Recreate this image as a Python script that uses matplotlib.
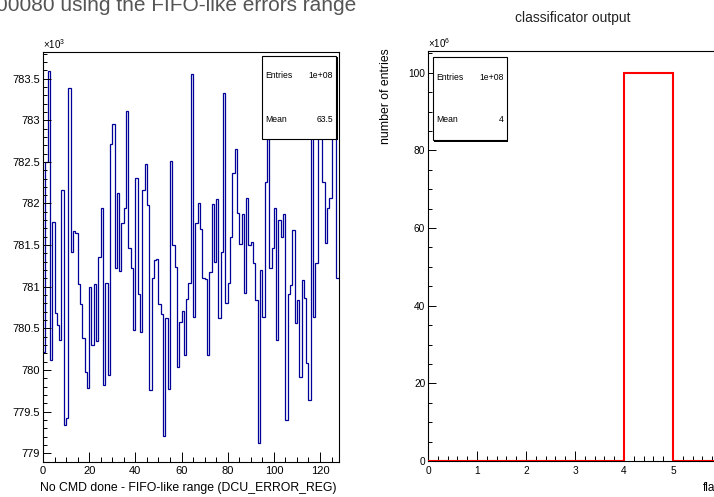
import numpy as np
import matplotlib.pyplot as plt
from matplotlib.patches import Rectangle
from matplotlib.ticker import MultipleLocator, FormatStrFormatter, FuncFormatter

plt.rcParams['font.family'] = ['Liberation Sans', 'DejaVu Sans']
plt.rcParams['mathtext.fontset'] = 'custom'
plt.rcParams['mathtext.rm'] = 'Liberation Sans'

# left histogram: 128 bins, entries in units of 10^3
fifo_edges = np.arange(0, 129)
fifo_counts = [
    780.22, 782.50, 783.59, 780.12, 781.78, 780.68, 780.54, 780.36,
    782.16, 779.34, 779.42, 783.39, 781.42, 781.67, 781.65, 781.03,
    780.79, 780.38, 779.98, 779.78, 781.00, 780.30, 781.03, 780.35,
    781.36, 781.94, 779.82, 781.05, 779.94, 782.71, 782.95, 781.22,
    782.13, 781.19, 781.76, 781.95, 783.11, 781.46, 781.22, 780.48,
    782.31, 780.91, 780.45, 782.16, 782.47, 781.98, 779.76, 781.10,
    781.32, 781.33, 780.79, 780.67, 779.21, 780.62, 779.77, 782.51,
    781.50, 781.24, 780.04, 780.58, 780.71, 780.18, 780.85, 781.05,
    783.56, 780.64, 781.77, 782.01, 781.69, 781.10, 781.09, 780.18,
    781.18, 781.99, 781.30, 782.05, 780.62, 781.42, 783.33, 780.81,
    781.05, 781.60, 782.37, 782.66, 781.89, 781.51, 781.87, 780.93,
    782.06, 781.50, 781.54, 781.28, 780.84, 779.12, 781.20, 780.64,
    782.26, 782.77, 781.22, 781.46, 781.94, 780.36, 781.80, 781.60,
    781.87, 779.40, 780.91, 781.02, 781.68, 780.56, 780.84, 779.92,
    781.08, 780.86, 780.08, 779.64, 783.20, 780.64, 781.28, 783.40,
    782.90, 782.26, 781.52, 781.95, 782.06, 783.00, 782.84, 781.10,
]

# right histogram: classificator output
class_edges = np.arange(0, 9)
class_counts = [0, 0, 0, 0, 1e8, 0, 0, 0]

stats_left = [("Entries", "1e+08"), ("Mean", "63.5")]
stats_right = [("Entries", "1e+08"), ("Mean", "4")]

W, H = 714, 497
fig = plt.figure(figsize=(W / 100, H / 100), dpi=100)


def rect(x0, y0, x1, y1):
    # pixel box (top-left origin) -> figure fraction
    return [x0 / W, 1 - y1 / H, (x1 - x0) / W, (y1 - y0) / H]


def style_axes(ax, lsize):
    for s in ax.spines.values():
        s.set_linewidth(0.8)
    ax.tick_params(which='both', direction='in', top=False, right=False,
                   width=0.7, labelsize=lsize)
    ax.tick_params(axis='x', which='major', length=7.5, pad=3.5)
    ax.tick_params(axis='x', which='minor', length=3.8)
    ax.tick_params(axis='y', which='major', length=5.5, pad=2)
    ax.tick_params(axis='y', which='minor', length=3.2)


def stats_box(x0, y0, x1, y1, rows, ys):
    fig.patches.append(Rectangle((x0 / W + 1.5 / W, 1 - y1 / H - 1.5 / H),
                                 (x1 - x0) / W, (y1 - y0) / H,
                                 transform=fig.transFigure, facecolor='black',
                                 edgecolor='none', zorder=5))
    fig.patches.append(Rectangle((x0 / W, 1 - y1 / H), (x1 - x0) / W, (y1 - y0) / H,
                                 transform=fig.transFigure, facecolor='white',
                                 edgecolor='black', lw=0.8, zorder=6))
    for (k, v), y in zip(rows, ys):
        fig.text((x0 + 3) / W, 1 - y / H, k, fontsize=6.2, va='center', zorder=7)
        fig.text((x1 - 3) / W, 1 - y / H, v, fontsize=6.2, va='center', ha='right', zorder=7)


# ---- left panel ----
ax1 = fig.add_axes(rect(43, 52, 338.5, 461.5))
ax1.stairs(fifo_counts, fifo_edges, baseline=None, color='#000099', lw=0.9)
ax1.set_xlim(0, 128)
ax1.set_ylim(778.90, 783.82)
ax1.xaxis.set_major_locator(MultipleLocator(20))
ax1.xaxis.set_minor_locator(MultipleLocator(5))
ax1.yaxis.set_major_locator(MultipleLocator(0.5))
ax1.yaxis.set_minor_locator(MultipleLocator(0.1))
ax1.yaxis.set_major_formatter(FormatStrFormatter('%g'))
style_axes(ax1, 8)
fig.text(43 / W, 1 - 49 / H, r'$\times10^{3}$', fontsize=7)
fig.text(337 / W, 1 - 491 / H, 'No CMD done - FIFO-like range (DCU_ERROR_REG)',
         fontsize=8.8, ha='right', va='baseline')
stats_box(262, 56, 336, 139, stats_left, [76, 119])

# ---- right panel ----
ax2 = fig.add_axes(rect(428, 51, 428 + 49 * 8, 461))
ax2.stairs(np.array(class_counts) / 1e6, class_edges, baseline=0,
           color='#ff0000', lw=1.5, zorder=3)
ax2.set_xlim(0, 8)
ax2.set_ylim(0, 105.6)
ax2.xaxis.set_major_locator(MultipleLocator(1))
ax2.xaxis.set_minor_locator(MultipleLocator(0.2))
# labels past the figure edge are not shown
ax2.xaxis.set_major_formatter(FuncFormatter(lambda v, p: '%g' % v if v < 5.5 else ''))
ax2.yaxis.set_major_locator(MultipleLocator(20))
ax2.yaxis.set_minor_locator(MultipleLocator(5))
style_axes(ax2, 7.3)
fig.text(428 / W, 1 - 48 / H, r'$\times10^{6}$', fontsize=7)
fig.text(386 / W, 1 - 48 / H, 'number of entries', fontsize=8.8,
         rotation=90, ha='center', va='top')
fig.text(703 / W, 1 - 491 / H, 'fla', fontsize=8.5, ha='left', va='baseline')
stats_box(433, 57, 507, 140, stats_right, [78, 120])

fig.text(573 / W, 1 - 22 / H, 'classificator output', fontsize=10,
         ha='center', va='baseline', color='#222222')
fig.text(-4 / W, 1 - 11 / H, '00080 using the FIFO-like errors range',
         fontsize=15, ha='left', va='baseline', color='#555555')

fig.savefig('out.png', dpi=100)
